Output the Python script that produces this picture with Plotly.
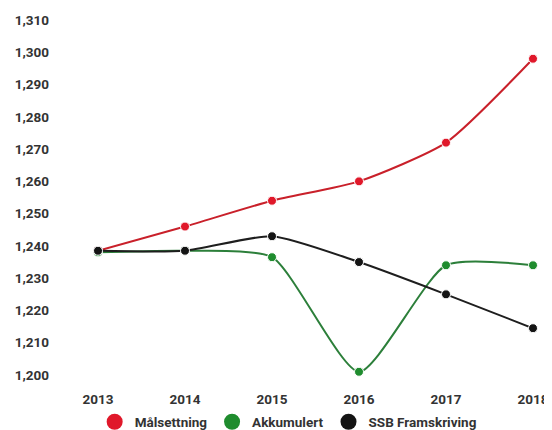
import plotly.graph_objects as go

years = [2013, 2014, 2015, 2016, 2017, 2018]
malsettning = [1238.5, 1246, 1254, 1260, 1272, 1298]
akkumulert = [1238, 1238.5, 1236.5, 1201, 1234, 1234]
ssb = [1238.5, 1238.5, 1243, 1235, 1225, 1214.5]
names = ["Målsettning", "Akkumulert", "SSB Framskriving"]
line_colors = ["#c9202a", "#2c7f3a", "#1e1e1e"]
marker_colors = ["#e0182a", "#1f8c2e", "#141414"]
yticks = list(range(1200, 1311, 10))

W, H = 544, 422  # page body has an 8px default margin

fig = go.Figure()
for vals, name, lc, mc in zip([malsettning, akkumulert, ssb], names, line_colors, marker_colors):
    fig.add_trace(go.Scatter(
        x=years, y=vals, mode="lines+markers", name=name, showlegend=False,
        line=dict(color=lc, width=2, shape="spline", smoothing=0.6),
        marker=dict(color=mc, size=9, line=dict(color="white", width=1)),
        cliponaxis=False,
    ))
for name, mc in zip(names, marker_colors):
    fig.add_trace(go.Scatter(
        x=[None], y=[None], mode="markers", name=name,
        marker=dict(color=mc, size=16),
    ))

fig.update_layout(
    width=W, height=H,
    margin=dict(l=90, r=19, t=12, b=55, autoexpand=False),
    paper_bgcolor="white", plot_bgcolor="white",
    font=dict(family="Roboto", size=13.5, color="#333", weight="bold"),
    showlegend=True,
    legend=dict(orientation="h", x=0.515, xanchor="center", xref="container",
                y=(H - 414) / H, yanchor="middle", yref="container",
                font=dict(size=13.5, color="#333"), itemsizing="trace",
                traceorder="normal", itemwidth=30),
    xaxis=dict(range=[2013, 2018], tickvals=years, ticktext=[str(y) for y in years],
               showgrid=False, zeroline=False, showline=False, ticklabelstandoff=14,
               automargin=False, fixedrange=True),
    yaxis=dict(range=[1200, 1310], tickvals=yticks,
               ticktext=[f"{v:,}" for v in yticks],
               showgrid=False, zeroline=False, showline=False, ticklabelstandoff=48,
               automargin=False, fixedrange=True),
)

fig.write_html("out.html")
